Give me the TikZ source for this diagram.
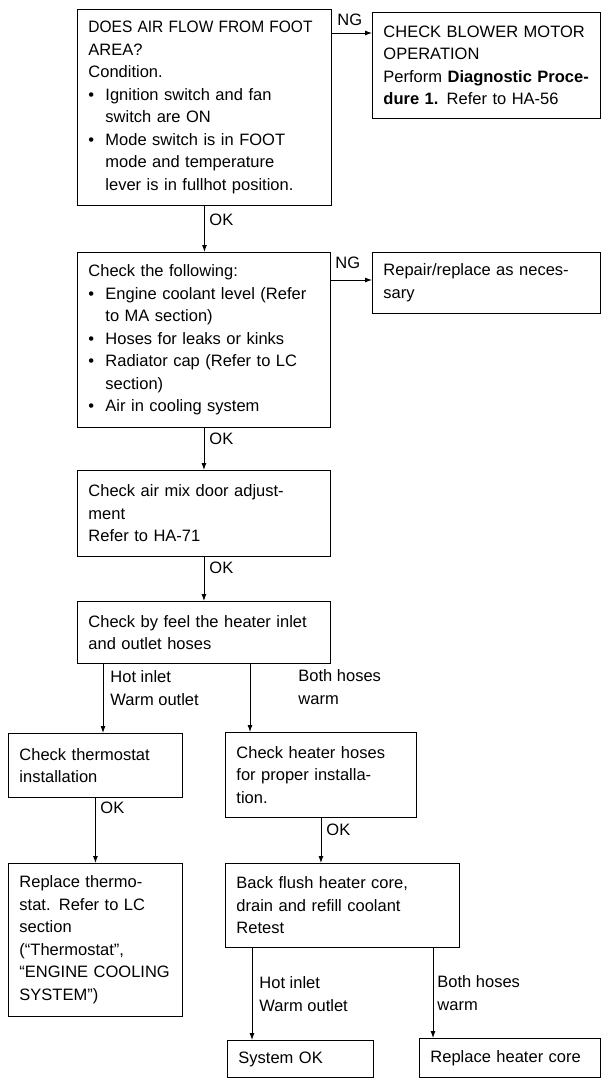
\documentclass[tikz,border=0pt]{standalone}
\usepackage{fontspec}
\setmainfont{Liberation Sans}
\usetikzlibrary{arrows.meta}

\newcommand{\bul}{\makebox[17pt][l]{\textbullet}}
\newcommand{\ind}{\hspace*{17pt}}

\begin{document}
\begin{tikzpicture}[x=1pt, y=-1pt, line width=0.9pt, >={Latex[length=7pt,width=5pt]}]
\tikzstyle{box} = [draw, anchor=north west, align=left, inner xsep=11pt, inner ysep=0pt, font=\fontsize{16.5}{22.5}\selectfont]
\tikzstyle{lbl} = [anchor=west, align=left, inner sep=0pt, font=\fontsize{16.5}{22.5}\selectfont]

\useasboundingbox (0,0) rectangle (601,1078);

\node [box, text width=232pt, minimum height=196pt] (q1) at (77,9) {\scalebox{0.94}[1]{DOES AIR FLOW FROM FOOT}\\AREA?\\Condition.\\\bul Ignition switch and fan\\\ind switch are ON\\\bul Mode switch is in FOOT\\\ind mode and temperature\\\ind lever is in fullhot position.};
\node [box, text width=206pt, minimum height=106pt] (q2) at (372,12) {CHECK BLOWER MOTOR\\OPERATION\\Perform \textbf{Diagnostic Proce-}\\\textbf{dure 1.} Refer to HA-56};
\node [box, text width=231pt, minimum height=175pt] (q3) at (77,252) {Check the following:\\\bul Engine coolant level (Refer\\\ind to MA section)\\\bul Hoses for leaks or kinks\\\bul Radiator cap (Refer to LC\\\ind section)\\\bul Air in cooling system};
\node [box, text width=206pt, minimum height=61pt] (q4) at (372,252) {Repair/replace as neces-\\sary};
\node [box, text width=231pt, minimum height=86pt] (q5) at (77,470) {Check air mix door adjust-\\ment\\Refer to HA-71};
\node [box, text width=231pt, minimum height=62pt] (q6) at (77,601) {Check by feel the heater inlet\\and outlet hoses};
\node [box, text width=152pt, minimum height=64pt] (q7) at (8,733) {Check thermostat\\installation};
\node [box, text width=169pt, minimum height=85pt] (q8) at (225,732) {Check heater hoses\\for proper installa-\\tion.};
\node [box, text width=152pt, minimum height=153pt] (q9) at (8,863) {Replace thermo-\\stat. Refer to LC\\section\\(``Thermostat'',\\``ENGINE COOLING\\SYSTEM'')};
\node [box, text width=212pt, minimum height=84pt] (q10) at (225,863) {Back flush heater core,\\drain and refill coolant\\Retest};
\node [box, text width=124pt, minimum height=37pt] (q11) at (227,1040) {System OK};
\node [box, text width=159pt, minimum height=39pt] (q12) at (419,1038) {Replace heater core};

% rows and columns the connectors run along
\coordinate (r1) at (0,33);
\coordinate (r2) at (0,280);
\coordinate (c1) at (103,0);
\coordinate (c2) at (250,0);
\coordinate (c3) at (252,0);
\coordinate (c4) at (433,0);

\draw [->] (q1.east |- r1) -- (q2.west |- r1);
\draw [->] (q1.south) -- (q1.south |- q3.north);
\draw [->] (q3.east |- r2) -- (q4.west |- r2);
\draw [->] (q3.south) -- (q3.south |- q5.north);
\draw [->] (q5.south) -- (q5.south |- q6.north);
\draw [->] (q6.south -| c1) -- (q7.north -| c1);
\draw [->] (q6.south -| c2) -- (q8.north -| c2);
\draw [->] (q7.south) -- (q7.south |- q9.north);
\draw [->] (q8.south) -- (q8.south |- q10.north);
\draw [->] (q10.south -| c3) -- (q11.north -| c3);
\draw [->] (q10.south -| c4) -- (q12.north -| c4);

\node [lbl] (ng1) at (337,20) {NG};
\node [lbl] (ok1) at (209,220) {OK};
\node [lbl] (ng2) at (335,263) {NG};
\node [lbl] (ok2) at (209,439) {OK};
\node [lbl] (ok3) at (209,568) {OK};
\node [lbl] (hot1) at (110,688) {Hot inlet\\Warm outlet};
\node [lbl] (both1) at (298,687) {Both hoses\\warm};
\node [lbl] (ok4) at (100,808) {OK};
\node [lbl] (ok5) at (326,830) {OK};
\node [lbl] (hot2) at (259,994) {Hot inlet\\Warm outlet};
\node [lbl] (both2) at (437,993) {Both hoses\\warm};

\end{tikzpicture}
\end{document}
